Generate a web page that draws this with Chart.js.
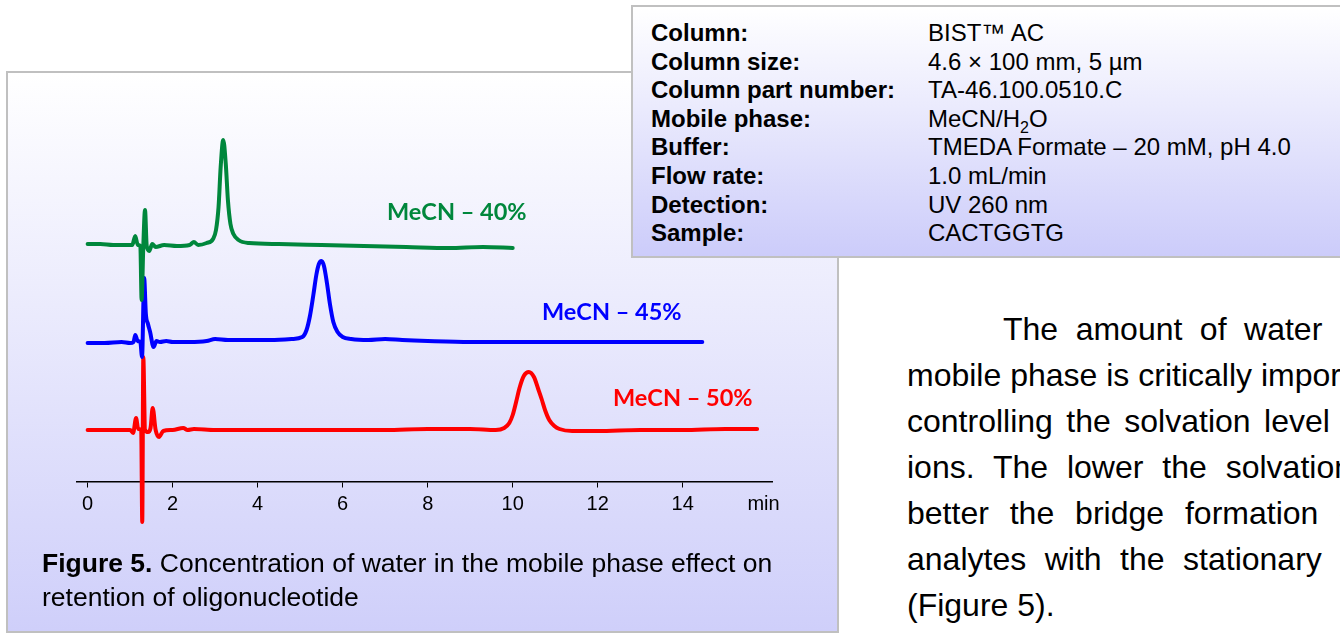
<!DOCTYPE html>
<html>
<head>
<meta charset="utf-8">
<script src="https://cdn.jsdelivr.net/npm/chart.js@4.4.1/dist/chart.umd.min.js"></script>
<style>
  body { margin: 0; width: 1340px; height: 634px; overflow: hidden; background: #fff; position: relative;
         font-family: "Liberation Sans", Arial, sans-serif; color: #000; }
  #panel { position: absolute; left: 6px; top: 71px; width: 829px; height: 558px;
           border: 2px solid #c0c0c0; background: linear-gradient(#ffffff, #cfcffa); }
  #chart { position: absolute; left: 0; top: 100px; }
  .lbl { position: absolute; font-family: Lato, sans-serif; font-weight: bold; font-size: 23.5px;
         line-height: 24px; white-space: nowrap; }
  #caption { position: absolute; left: 42px; top: 546px; font-size: 26.5px; line-height: 34px; white-space: nowrap; }
  #info { position: absolute; left: 631px; top: 5px; width: 760px; height: 249px;
          border: 2px solid #c0c0c0; background: linear-gradient(#ffffff, #ccccfa); }
  #info .row { position: absolute; left: 18px; font-size: 24px; line-height: 28.6px; white-space: nowrap; }
  #info .row b { display: inline-block; width: 277px; }
  #para { position: absolute; left: 907px; top: 306px; font-size: 32px; line-height: 46px; white-space: nowrap; }
</style>
</head>
<body>
<div id="panel"></div>
<canvas id="chart" width="800" height="450"></canvas>
<div class="lbl" style="left:387px;top:199px;color:#00873c">MeCN – 40%</div>
<div class="lbl" style="left:542px;top:299px;color:#0000ff">MeCN – 45%</div>
<div class="lbl" style="left:613px;top:385px;color:#ff0000">MeCN – 50%</div>
<div id="caption"><b>Figure 5.</b> Concentration of water in the mobile phase effect on<br>retention of oligonucleotide</div>

<div id="info"></div>

<div id="para">
  <div style="padding-left:96px;word-spacing:8.6px">The amount of water in the</div>
  <div>mobile phase is critically important for</div>
  <div style="word-spacing:4.6px">controlling the solvation level of the</div>
  <div style="word-spacing:10px">ions. The lower the solvation, the</div>
  <div style="word-spacing:12px">better the bridge formation of the</div>
  <div style="word-spacing:9.6px">analytes with the stationary phase</div>
  <div>(Figure 5).</div>
</div>

<script>
// conditions table
const infoLabels = ["Column:", "Column size:", "Column part number:", "Mobile phase:", "Buffer:", "Flow rate:", "Detection:", "Sample:"];
const infoValues = ["BIST™ AC", "4.6 × 100 mm, 5 µm", "TA-46.100.0510.C", "MeCN/H<sub style='font-size:16px;line-height:0'>2</sub>O",
                    "TMEDA Formate – 20 mM, pH 4.0", "1.0 mL/min", "UV 260 nm", "CACTGGTG"];

// chromatograms: retention time (min) and detector signal (offset per trace)
const greenTime   = [0.0, 0.3, 0.6, 0.9, 1.05, 1.12, 1.18, 1.24, 1.27, 1.31, 1.35, 1.39, 1.45, 1.52, 1.6, 1.8, 2.1, 2.4, 2.5, 2.6, 2.8,
                     2.95, 3.02, 3.08, 3.13, 3.19, 3.25, 3.3, 3.36, 3.43, 3.55, 3.8, 4.5, 5.5, 6.5, 7.5, 8.5, 9.3, 10.0];
const greenSignal = [238, 238, 237, 237, 237, 246, 237, 236, 182, 236, 272, 236, 231, 238, 235, 237, 236, 237, 240, 237, 239,
                     243, 252, 275, 315, 342, 318, 282, 258, 248, 242, 239, 238, 237, 236, 235, 234, 235, 234];

const blueTime   = [0.0, 0.4, 0.8, 1.0, 1.08, 1.12, 1.18, 1.24, 1.28, 1.33, 1.37, 1.42, 1.47, 1.55, 1.62, 1.7, 1.85, 2.0, 2.4, 2.8,
                    3.0, 3.3, 3.8, 4.3, 4.8, 5.05, 5.15, 5.23, 5.31, 5.38, 5.44, 5.5, 5.56, 5.63, 5.7, 5.78, 5.88, 6.0, 6.2,
                    6.6, 7.0, 7.4, 8.0, 9.0, 10.0, 11.0, 12.0, 13.0, 14.0, 14.46];
const blueSignal = [139, 139, 140, 139, 140, 147, 141, 140, 125, 204, 168, 158, 150, 135, 141, 140, 141, 140, 140, 141,
                    143, 142, 142, 142, 143, 145, 152, 166, 187, 207, 218, 221, 216, 199, 178, 160, 150, 145, 143,
                    142, 143, 142, 141, 140, 140, 140, 140, 140, 140, 140];

const redTime   = [0.0, 0.5, 1.0, 1.07, 1.14, 1.19, 1.26, 1.285, 1.31, 1.35, 1.42, 1.48, 1.53, 1.6, 1.68, 1.78, 2.0, 2.25, 2.35,
                   2.5, 3.0, 4.0, 5.0, 6.0, 7.0, 8.0, 9.0, 9.6, 9.8, 9.92, 10.0, 10.08, 10.16, 10.26, 10.38, 10.5, 10.6,
                   10.68, 10.76, 10.86, 10.98, 11.1, 11.4, 12.0, 13.0, 14.0, 15.0, 15.75];
const redSignal = [52, 52, 52, 49, 64, 53, 52, -40, 125, 52, 50, 54, 74, 52, 45, 51, 52, 54, 52,
                   53, 52, 52, 52, 52, 52, 53, 53, 52, 54, 59, 67, 80, 94, 106, 110, 105, 93,
                   83, 72, 62, 56, 53, 51, 51, 52, 52, 53, 53];

const tickValues = [0, 2, 4, 6, 8, 10, 12, 14];
const unitTick = 15.9;
const unitLabel = "min";

const info = document.getElementById("info");
infoLabels.forEach((label, i) => {
    const row = document.createElement("div");
    row.className = "row";
    row.style.top = (12 + i * 28.6) + "px";
    row.innerHTML = `<b>${label}</b>${infoValues[i]}`;
    info.appendChild(row);
});

const toPoints = (t, s) => t.map((x, i) => ({ x: x, y: s[i] }));

const trace = (label, t, s, color) => ({
    label: label,
    data: toPoints(t, s),
    borderColor: color,
    borderWidth: 4,
    pointRadius: 0,
    fill: false,
    cubicInterpolationMode: "monotone",
    borderJoinStyle: "round",
    borderCapStyle: "round"
});

new Chart(document.getElementById("chart"), {
    type: "line",
    data: {
        datasets: [
            trace("MeCN – 40%", greenTime, greenSignal, "#00873c"),
            trace("MeCN – 45%", blueTime, blueSignal, "#0000ff"),
            trace("MeCN – 50%", redTime, redSignal, "#ff0000")
        ]
    },
    options: {
        responsive: false,
        animation: false,
        layout: { padding: { left: 77, right: 28, top: 32, bottom: 23 } },
        plugins: { legend: { display: false }, tooltip: { enabled: false } },
        scales: {
            x: {
                type: "linear",
                position: { y: 0 },
                min: -0.25,
                max: 16.1,
                afterBuildTicks: (scale) => {
                    scale.ticks = tickValues.concat([unitTick]).map(v => ({ value: v }));
                },
                ticks: {
                    autoSkip: false,
                    maxRotation: 0,
                    padding: 5,
                    color: "#000",
                    font: { family: "Liberation Sans", size: 20 },
                    callback: (v) => v === unitTick ? unitLabel : v
                },
                grid: {
                    drawOnChartArea: false,
                    tickLength: 5,
                    tickColor: (ctx) => (ctx.tick && ctx.tick.value === unitTick) ? "rgba(0,0,0,0)" : "#000"
                },
                border: { color: "#000", width: 1.5 }
            },
            y: { display: false, min: -45, max: 350 }
        }
    }
});
</script>
</body>
</html>
